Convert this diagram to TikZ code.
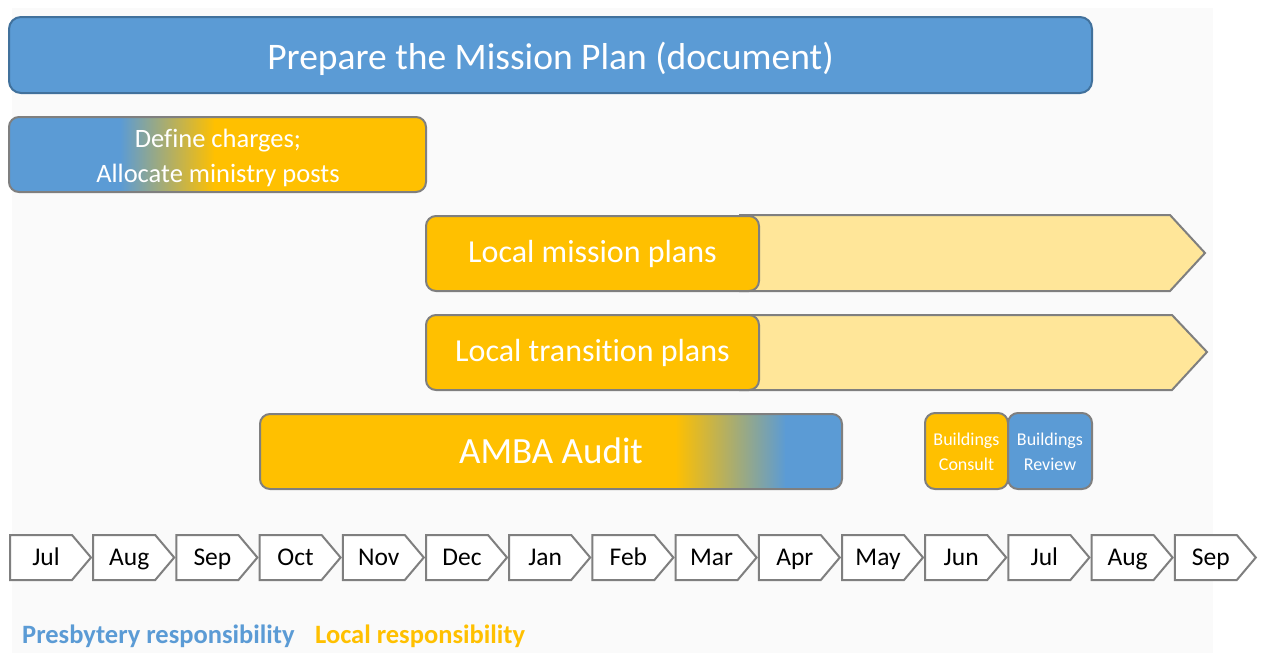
\documentclass[tikz,border=0pt]{standalone}
\usepackage{fontspec}
\setmainfont{Carlito}[Ligatures={TeX,NoCommon}]
\definecolor{pblue}{HTML}{5B9BD5}
\definecolor{porange}{HTML}{FFC000}
\definecolor{plight}{HTML}{FFE699}
\definecolor{pline}{HTML}{7F7F7F}
\definecolor{pdarkblue}{HTML}{41719C}
\definecolor{pbg}{HTML}{FAFAFA}
\begin{document}
\begin{tikzpicture}[x=1pt,y=-1pt,
  boxline/.style={draw=pline,line width=2pt,rounded corners=10pt},
  arrowbar/.style={fill=plight,draw=pline,line width=2pt,line join=miter},
  month/.style={fill=white,draw=pline,line width=2pt,line join=miter},
  wtext/.style={text=white,inner sep=0pt,anchor=base},
  mtext/.style={text=black,inner sep=0pt,anchor=base,font=\fontsize{25.5}{30}\selectfont},
  legend/.style={anchor=base west,inner sep=0pt,font=\bfseries\fontsize{26.5}{30}\selectfont}]
\useasboundingbox (0,0) rectangle (1261,653);
\fill[pbg] (12,8) rectangle (1213,653);

% main box
\draw[fill=pblue,draw=pdarkblue,line width=2pt,rounded corners=12pt] (9,17) rectangle (1092,93);
\node[wtext,font=\fontsize{37.5}{44}\selectfont] (mission) at (550.5,69.5) {Prepare the Mission Plan (document)};

% define charges box
\begin{scope}
\clip[rounded corners=10pt] (9,117) rectangle (426,192);
\fill[pblue] (9,117) rectangle (121,192);
\shade[left color=pblue,right color=porange] (120,117) rectangle (215,192);
\fill[porange] (214,117) rectangle (426,192);
\end{scope}
\draw[boxline] (9,117) rectangle (426,192);
\node[wtext,font=\fontsize{26.5}{32}\selectfont] (define1) at (218,147) {Define charges;};
\node[wtext,font=\fontsize{26.5}{32}\selectfont] (define2) at (218,182) {Allocate ministry posts};

% local mission plans
\draw[arrowbar] (740,215) -- (1170,215) -- (1205,253) -- (1170,291) -- (740,291) -- cycle;
\draw[boxline,fill=porange] (426,216) rectangle (759,291);
\node[wtext,font=\fontsize{32}{38}\selectfont] (lmp) at (592.5,262) {Local mission plans};

% local transition plans
\draw[arrowbar] (740,315) -- (1172,315) -- (1207,352) -- (1172,390) -- (740,390) -- cycle;
\draw[boxline,fill=porange] (426,315) rectangle (759,390);
\node[wtext,font=\fontsize{32}{38}\selectfont] (ltp) at (592.5,361) {Local transition plans};

% AMBA audit
\begin{scope}
\clip[rounded corners=10pt] (260,414) rectangle (842,489);
\fill[porange] (260,414) rectangle (676,489);
\shade[left color=porange,right color=pblue] (675,414) rectangle (786,489);
\fill[pblue] (785,414) rectangle (842,489);
\end{scope}
\draw[boxline] (260,414) rectangle (842,489);
\node[wtext,font=\fontsize{37}{44}\selectfont] (amba) at (551,463) {AMBA Audit};

% buildings
\draw[boxline,fill=porange] (925,413) rectangle (1008,489);
\draw[boxline,fill=pblue] (1008,413) rectangle (1092,489);
\node[wtext,font=\fontsize{18}{22}\selectfont] (consult1) at (966.5,445) {Buildings};
\node[wtext,font=\fontsize{18}{22}\selectfont] (consult2) at (966.5,470) {Consult};
\node[wtext,font=\fontsize{18}{22}\selectfont] (review1) at (1050,445) {Buildings};
\node[wtext,font=\fontsize{18}{22}\selectfont] (review2) at (1050,470) {Review};

% months
\foreach \m [count=\i from 0] in {Jul,Aug,Sep,Oct,Nov,Dec,Jan,Feb,Mar,Apr,May,Jun,Jul,Aug,Sep} {
  \pgfmathsetmacro{\xo}{10+83.2*\i}
  \draw[month] (\xo,535) -- (\xo+62,535) -- (\xo+81,557.5) -- (\xo+62,580) -- (\xo,580) -- cycle;
  \node[mtext] (m\i) at (\xo+36,565) {\m};
}

% legend
\node[legend,text=pblue] (presb) at (22,643) {Presbytery responsibility};
\node[legend,text=porange] (local) at (315,643) {Local responsibility};
\end{tikzpicture}
\end{document}
